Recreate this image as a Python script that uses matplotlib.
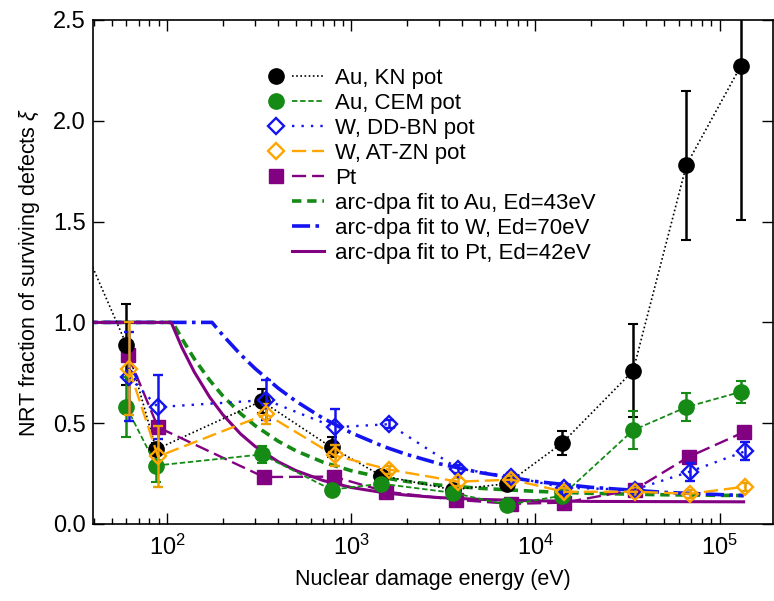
import matplotlib
matplotlib.use("Agg")
import matplotlib.pyplot as plt
from matplotlib.lines import Line2D
from matplotlib.legend_handler import HandlerTuple
import numpy as np

plt.rcParams['font.family'] = ['Liberation Sans', 'DejaVu Sans']
plt.rcParams['mathtext.fontset'] = 'custom'
plt.rcParams['mathtext.rm'] = 'Liberation Sans'
plt.rcParams['mathtext.it'] = 'Liberation Sans:italic'
plt.rcParams['mathtext.default'] = 'regular'

# ---------------- data ----------------
au_kn_E = [30, 60, 87, 325, 780, 1450, 3550, 7000, 13900, 33900, 66000, 130000]
au_kn_xi = [1.52, 0.89, 0.37, 0.61, 0.38, 0.24, 0.17, 0.20, 0.40, 0.76, 1.78, 2.27]
au_kn_err = [0.0, 0.20, 0.03, 0.06, 0.05, 0.02, 0.02, 0.02, 0.06, 0.23, 0.37, 0.76]

au_cem_E = [60, 87, 325, 780, 1450, 3550, 7000, 13900, 33900, 66000, 130000]
au_cem_xi = [0.58, 0.29, 0.345, 0.17, 0.20, 0.155, 0.095, 0.14, 0.465, 0.58, 0.655]
au_cem_err = [0.15, 0.08, 0.04, 0.02, 0.02, 0.02, 0.02, 0.02, 0.095, 0.07, 0.055]

w_ddbn_E = [62, 89, 345, 810, 1600, 3800, 7400, 14300, 34500, 69000, 137000]
w_ddbn_xi = [0.73, 0.58, 0.615, 0.48, 0.495, 0.275, 0.235, 0.18, 0.17, 0.26, 0.36]
w_ddbn_err = [0.22, 0.16, 0.10, 0.09, 0.02, 0.02, 0.02, 0.02, 0.02, 0.045, 0.045]

w_atzn_E = [62, 89, 345, 810, 1600, 3800, 7400, 14300, 34500, 69000, 137000]
w_atzn_xi = [0.77, 0.335, 0.545, 0.34, 0.27, 0.21, 0.22, 0.16, 0.16, 0.15, 0.185]
w_atzn_err = [0.23, 0.15, 0.05, 0.05, 0.02, 0.02, 0.02, 0.02, 0.02, 0.02, 0.02]

pt_E = [61, 89, 335, 800, 1550, 3700, 7400, 14300, 34500, 68000, 135000]
pt_xi = [0.84, 0.48, 0.233, 0.235, 0.16, 0.12, 0.10, 0.106, 0.17, 0.333, 0.455]

fit_au_E = [30, 107, 120, 140, 170, 200, 250, 300, 400, 500, 700, 1000, 1500,
            2000, 3000, 5000, 10000, 20000, 50000, 135000]
fit_au_xi = [1.0, 1.0, 0.92, 0.82, 0.713, 0.636, 0.548, 0.488, 0.411, 0.363,
             0.307, 0.264, 0.229, 0.211, 0.193, 0.177, 0.162, 0.152, 0.145, 0.141]

fit_w_E = [30, 175, 200, 250, 300, 400, 500, 700, 1000, 1500, 2000, 3000,
           5000, 10000, 20000, 50000, 135000]
fit_w_xi = [1.0, 1.0, 0.937, 0.841, 0.771, 0.674, 0.609, 0.525, 0.452, 0.384,
            0.345, 0.299, 0.255, 0.211, 0.182, 0.157, 0.141]

fit_pt_E = [30, 105, 120, 140, 170, 200, 250, 300, 400, 500, 700, 1000, 1500,
            2000, 3000, 5000, 10000, 20000, 50000, 135000]
fit_pt_xi = [1.0, 1.0, 0.876, 0.755, 0.629, 0.543, 0.447, 0.385, 0.309, 0.265,
             0.216, 0.181, 0.155, 0.143, 0.131, 0.122, 0.115, 0.112, 0.111, 0.110]

labels = ["Au, KN pot", "Au, CEM pot", "W, DD-BN pot", "W, AT-ZN pot", "Pt",
          "arc-dpa fit to Au, Ed=43eV", "arc-dpa fit to W, Ed=70eV",
          "arc-dpa fit to Pt, Ed=42eV"]
yticks = [0.0, 0.5, 1.0, 1.5, 2.0, 2.5]

# ---------------- style ----------------
BLACK = '#000000'
GREEN = '#158a15'
BLUE = '#1414f0'
ORANGE = '#ffa500'
PURPLE = '#820082'

MS_C = 11
MS_D = 8.5
MS_S = 9.5

fig = plt.figure(figsize=(7.74, 6.01), dpi=100)
ax = fig.add_axes([93/774, 77/601, 680/774, 504/601])
ax.set_xscale('log')

# fit curves
ax.plot(fit_au_E, fit_au_xi, color=GREEN, lw=2.6, ls=(0, (2.6, 1.6)), zorder=2)
ax.plot(fit_w_E, fit_w_xi, color=BLUE, lw=2.6, ls=(0, (5, 1.5, 1, 1.5)), zorder=2)
ax.plot(fit_pt_E, fit_pt_xi, color=PURPLE, lw=2.2, ls='-', zorder=2)

# data
ax.plot(au_kn_E, au_kn_xi, color=BLACK, lw=1.2, ls=(0, (1, 1.5)), zorder=3)
ax.errorbar(au_kn_E, au_kn_xi, yerr=au_kn_err, fmt='o', color=BLACK, ms=MS_C,
            ecolor=BLACK, elinewidth=1.8, capsize=3.5, capthick=1.5, zorder=4)

ax.errorbar(au_cem_E, au_cem_xi, yerr=au_cem_err, fmt='o', color=GREEN, ms=MS_C,
            ls=(0, (3, 1.5)), lw=1.3, ecolor=GREEN, elinewidth=1.8, capsize=3.5,
            capthick=1.5, zorder=4)

ax.errorbar(w_ddbn_E, w_ddbn_xi, yerr=w_ddbn_err, fmt='D', color=BLUE, ms=MS_D,
            mfc='none', mew=1.7, ls=(0, (1, 3)), lw=1.7, ecolor=BLUE,
            elinewidth=1.8, capsize=3.5, capthick=1.5, zorder=5)

ax.errorbar(w_atzn_E, w_atzn_xi, yerr=w_atzn_err, fmt='D', color=ORANGE, ms=MS_D,
            mfc='none', mew=1.7, ls=(0, (6, 2.5)), lw=1.7, ecolor='#e8a000',
            elinewidth=1.8, capsize=3.5, capthick=1.5, zorder=5)

ax.plot(pt_E, pt_xi, color=PURPLE, marker='s', ms=MS_S, ls=(0, (6, 2.5)), lw=1.7, zorder=4)

# axes
ax.set_xlim(39.5, 1.95e5)
ax.set_ylim(0, 2.5)
ax.set_yticks(yticks)
ax.set_yticklabels([f"{v:.1f}" for v in yticks])
ax.tick_params(which='both', direction='in', top=True, right=True,
               labelsize=17, width=1.0)
ax.tick_params(axis='y', pad=5)
ax.tick_params(axis='x', pad=8)
ax.tick_params(which='major', length=8)
ax.tick_params(which='minor', length=4)
ax.yaxis.set_minor_locator(matplotlib.ticker.NullLocator())
for s in ax.spines.values():
    s.set_linewidth(1.2)

ax.set_xlabel('Nuclear damage energy (eV)', fontsize=15.5, labelpad=6)
ax.set_ylabel('NRT fraction of surviving defects $\\it{\\xi}$', fontsize=15.5, labelpad=8)

# legend (marker on the left, line sample on the right)
blank = Line2D([], [], ls='none')
h_kn = (Line2D([], [], ls='none', marker='o', ms=MS_C, color=BLACK),
        Line2D([], [], color=BLACK, lw=1.2, ls=(0, (1, 1.5))))
h_cem = (Line2D([], [], ls='none', marker='o', ms=MS_C, color=GREEN),
         Line2D([], [], color=GREEN, lw=1.3, ls=(0, (3, 1.5))))
h_dd = (Line2D([], [], ls='none', marker='D', ms=MS_D, color=BLUE, mfc='none', mew=1.7),
        Line2D([], [], color=BLUE, lw=1.7, ls=(0, (1, 3))))
h_at = (Line2D([], [], ls='none', marker='D', ms=MS_D, color=ORANGE, mfc='none', mew=1.7),
        Line2D([], [], color=ORANGE, lw=1.7, ls=(0, (6, 2.5))))
h_pt = (Line2D([], [], ls='none', marker='s', ms=MS_S, color=PURPLE),
        Line2D([], [], color=PURPLE, lw=1.7, ls=(0, (6, 2.5))))
h_fau = (blank, Line2D([], [], color=GREEN, lw=2.6, ls=(0, (2.6, 1.6))))
h_fw = (blank, Line2D([], [], color=BLUE, lw=2.6, ls=(0, (5, 1.5, 1, 1.5))))
h_fpt = (blank, Line2D([], [], color=PURPLE, lw=2.2))

ax.legend([h_kn, h_cem, h_dd, h_at, h_pt, h_fau, h_fw, h_fpt], labels,
          handler_map={tuple: HandlerTuple(ndivide=None, pad=0)},
          loc='upper left', bbox_to_anchor=(0.245, 0.905), frameon=False,
          fontsize=16, handlelength=2.9, handletextpad=0.5, labelspacing=0.18,
          borderpad=0, borderaxespad=0)

fig.savefig('out.png', dpi=100)
